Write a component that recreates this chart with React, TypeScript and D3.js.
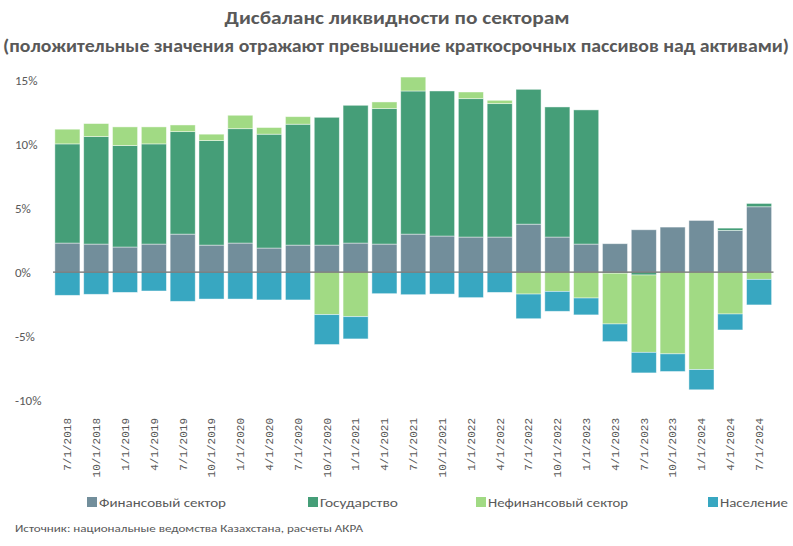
import React from "react";
import * as d3 from "d3";

const dates = ["7/1/2018","10/1/2018","1/1/2019","4/1/2019","7/1/2019","10/1/2019","1/1/2020","4/1/2020","7/1/2020","10/1/2020","1/1/2021","4/1/2021","7/1/2021","10/1/2021","1/1/2022","4/1/2022","7/1/2022","10/1/2022","1/1/2023","4/1/2023","7/1/2023","10/1/2023","1/1/2024","4/1/2024","7/1/2024"];
const finSector = [2.28,2.2,1.97,2.2,2.98,2.12,2.28,1.89,2.12,2.12,2.28,2.2,2.98,2.83,2.75,2.75,3.76,2.75,2.2,2.23,3.32,3.53,4.05,3.27,5.12];
const government = [7.76,8.41,7.94,7.84,8.02,8.18,8.95,8.91,9.46,10.0,10.78,10.6,11.2,11.35,10.83,10.44,10.55,10.18,10.5,-0.08,-0.22,0,0,0.18,0.26];
const nonFinSector = [1.15,1.02,1.46,1.33,0.52,0.5,1.05,0.52,0.59,-3.32,-3.48,0.52,1.09,0,0.52,0.26,-1.71,-1.5,-2.02,-3.97,-6.05,-6.39,-7.62,-3.27,-0.56];
const population = [-1.81,-1.73,-1.58,-1.47,-2.28,-2.1,-2.1,-2.17,-2.17,-2.34,-1.74,-1.68,-1.76,-1.71,-1.99,-1.58,-1.93,-1.56,-1.32,-1.38,-1.61,-1.38,-1.58,-1.25,-2.0];
const seriesKeys = ["fin","gov","nonfin","pop"];
const seriesNames = ["Финансовый сектор","Государство","Нефинансовый сектор","Население"];
const seriesColors = ["#728e9b","#459e78","#a1da84","#38a7c1"];
const yTicks = [-10,-5,0,5,10,15];
const titleLine1 = "Дисбаланс ликвидности по секторам";
const titleLine2 = "(положительные значения отражают превышение краткосрочных пассивов над активами)";
const sourceText = "Источник: национальные ведомства Казахстана, расчеты АКРА";

export default function App() {
  const rows = dates.map((d, i) => ({ date: d, fin: finSector[i], gov: government[i], nonfin: nonFinSector[i], pop: population[i] }));
  const stack = d3.stack<any>().keys(seriesKeys).offset(d3.stackOffsetDiverging);
  const layers = stack(rows);
  const x = d3.scaleBand().domain(dates).range([53, 773.5]).paddingInner(0.13).paddingOuter(0.065);
  const y = d3.scaleLinear().domain([-10, 15]).range([400, 80.5]);
  const font = "Carlito, 'Open Sans', 'Noto Sans', sans-serif";
  const grey = "#595959";
  const legendX = [87, 308, 476, 708];
  const legendW = [127, 78, 140, 68];
  return (
    <svg width={793} height={546} style={{ position: "absolute", left: 0, top: 0, background: "#fff" }}>
      <text x={397} y={24} textAnchor="middle" fontFamily={font} fontWeight="bold" fontSize={17} fill={grey} textLength={345} lengthAdjust="spacingAndGlyphs">{titleLine1}</text>
      <text x={396} y={52} textAnchor="middle" fontFamily={font} fontWeight="bold" fontSize={17} fill={grey} textLength={786} lengthAdjust="spacingAndGlyphs">{titleLine2}</text>
      {yTicks.map(t => (
        <text key={t} x={15} y={y(t)} dy="0.35em" fontFamily={font} fontSize={13} fill={grey}>{t}%</text>
      ))}
      {layers.map((layer, li) => (
        <g key={layer.key} fill={seriesColors[li]}>
          {layer.map((d, i) => {
            const h = Math.abs(y(d[0]) - y(d[1]));
            if (h < 0.01) return null;
            return <rect key={i} x={x(dates[i])} width={x.bandwidth()} y={Math.min(y(d[0]), y(d[1]))} height={h} stroke="#ffffff" strokeOpacity={0.55} strokeWidth={0.8} />;
          })}
        </g>
      ))}
      <line x1={53} x2={773.5} y1={y(0)} y2={y(0)} stroke="#6b6b6b" strokeWidth={1.2} />
      {dates.map(d => (
        <text key={d} transform={`translate(${(x(d) as number) + x.bandwidth() / 2},418) rotate(-90)`} textAnchor="end" dy="0.35em" fontFamily="'Liberation Mono', 'DejaVu Sans Mono', monospace" fontSize={11} fill={grey}>{d}</text>
      ))}
      {seriesNames.map((n, i) => (
        <g key={n}>
          <rect x={legendX[i]} y={497} width={10} height={10} fill={seriesColors[i]} />
          <text x={legendX[i] + 12} y={502} dy="0.35em" fontFamily={font} fontSize={13} fill={grey} textLength={legendW[i]} lengthAdjust="spacingAndGlyphs">{n}</text>
        </g>
      ))}
      <text x={15} y={528} dy="0.35em" fontFamily={font} fontSize={11} fill={grey} textLength={348} lengthAdjust="spacingAndGlyphs">{sourceText}</text>
    </svg>
  );
}
